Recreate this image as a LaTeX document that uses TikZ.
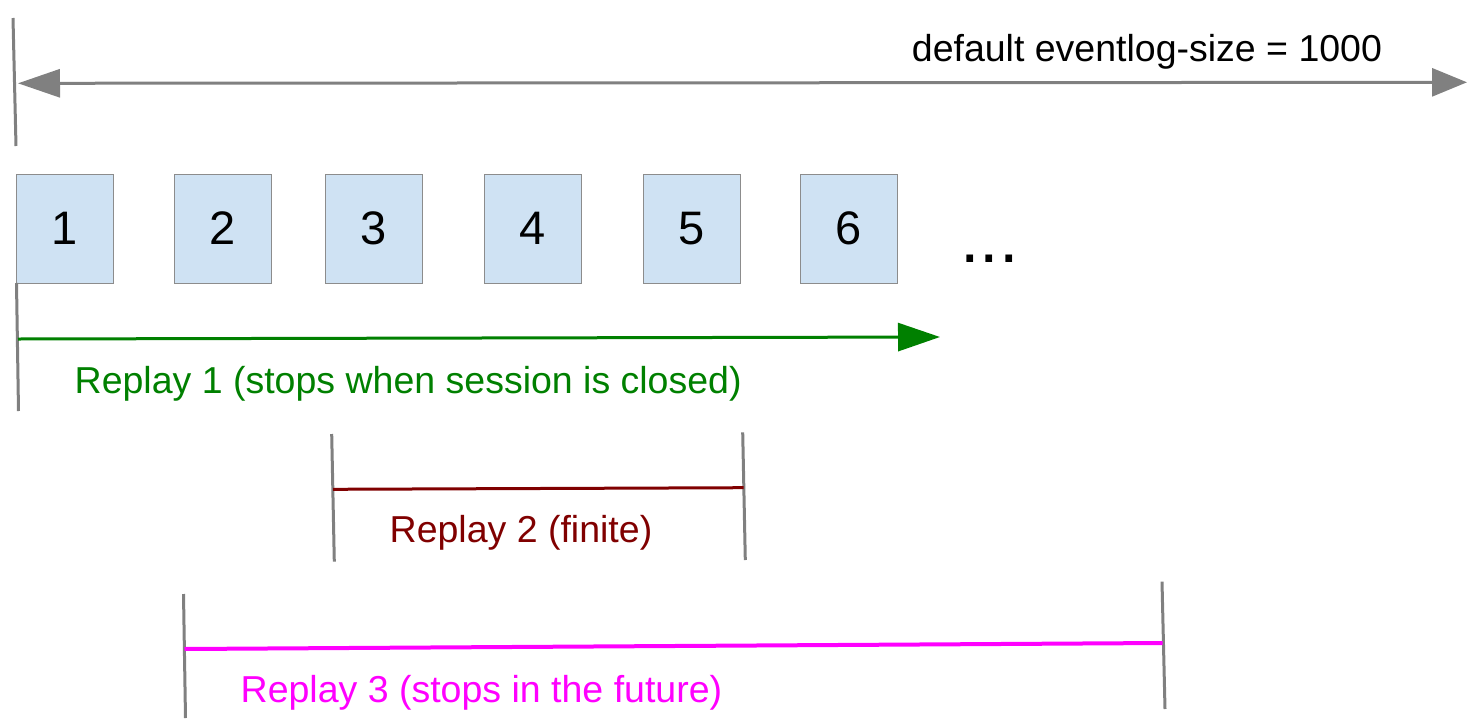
\documentclass[tikz,border=0pt]{standalone}
\usepackage{fontspec}
\setmainfont{Liberation Sans}
\usetikzlibrary{arrows.meta}
\definecolor{tickgray}{HTML}{808080}
\definecolor{boxborder}{HTML}{8C8C8C}
\definecolor{boxfill}{HTML}{CFE2F3}
\definecolor{rgreen}{HTML}{008000}
\definecolor{rred}{HTML}{800000}
\definecolor{rmag}{HTML}{FF00FF}
\begin{document}
\begin{tikzpicture}[x=1pt,y=-1pt,
  tick/.style={draw=tickgray, line width=3pt},
  box/.style={draw=boxborder, fill=boxfill, line width=1pt, minimum width=97pt, minimum height=109pt, inner sep=0pt, font=\fontsize{47}{50}\selectfont},
  lbl/.style={anchor=base west, inner sep=0pt, font=\fontsize{37.5}{40}\selectfont},
  span/.style={line width=3pt}]
\path[use as bounding box] (0,0) rectangle (1467,718);

% top range
\coordinate (t0a) at (13,18);
\coordinate (t0b) at (16,146);
\draw[tick] (t0a) -- (t0b);
\coordinate (aL) at (18,83.3);
\coordinate (aR) at (1467,82.3);
\draw[span, tickgray, {Triangle[length=42pt,width=28pt]}-{Triangle[length=35pt,width=28pt]}] (aL) -- (aR);
\node[lbl] (size) at (911.7,61.7) {default eventlog-size = 1000};

% boxes
\node[box] (b1) at (64.5,228.5) {1};
\node[box] (b2) at (223,228.5) {2};
\node[box] (b3) at (373.5,228.5) {3};
\node[box] (b4) at (532.5,228.5) {4};
\node[box] (b5) at (691.5,228.5) {5};
\node[box] (b6) at (849,228.5) {6};
\node[anchor=base west, inner sep=0pt, font=\fontsize{70}{72}\selectfont] (dots) at (960,262) {...};

% replay 1
\coordinate (g1a) at (16.5,283);
\coordinate (g1b) at (18.5,411);
\draw[tick] (g1a) -- (g1b);
\coordinate (gL) at (18,339);
\coordinate (gR) at (940,337);
\draw[span, rgreen, -{Triangle[length=42pt,width=28pt]}] (gL) -- (gR);
\node[lbl, text=rgreen] (r1) at (74.5,393) {Replay 1 (stops when session is closed)};

% replay 2
\coordinate (r2la) at (331.7,434);
\coordinate (r2lb) at (334.3,561.7);
\coordinate (r2ra) at (742.7,432.3);
\coordinate (r2rb) at (745.3,560);
\draw[tick] (r2la) -- (r2lb);
\draw[tick] (r2ra) -- (r2rb);
\coordinate (r2L) at (333,489.3);
\coordinate (r2R) at (743.5,487.7);
\draw[span, rred] (r2L) -- (r2R);
\node[lbl, text=rred] (r2) at (389.5,542) {Replay 2 (finite)};

% replay 3
\coordinate (r3la) at (183.5,594);
\coordinate (r3lb) at (185.5,718);
\coordinate (r3ra) at (1162,581.7);
\coordinate (r3rb) at (1165,709);
\draw[tick] (r3la) -- (r3lb);
\draw[tick] (r3ra) -- (r3rb);
\coordinate (r3L) at (184.5,649);
\coordinate (r3R) at (1162.5,643);
\draw[line width=4pt, rmag] (r3L) -- (r3R);
\node[lbl, text=rmag] (r3) at (240.5,702.7) {Replay 3 (stops in the future)};
\end{tikzpicture}
\end{document}
